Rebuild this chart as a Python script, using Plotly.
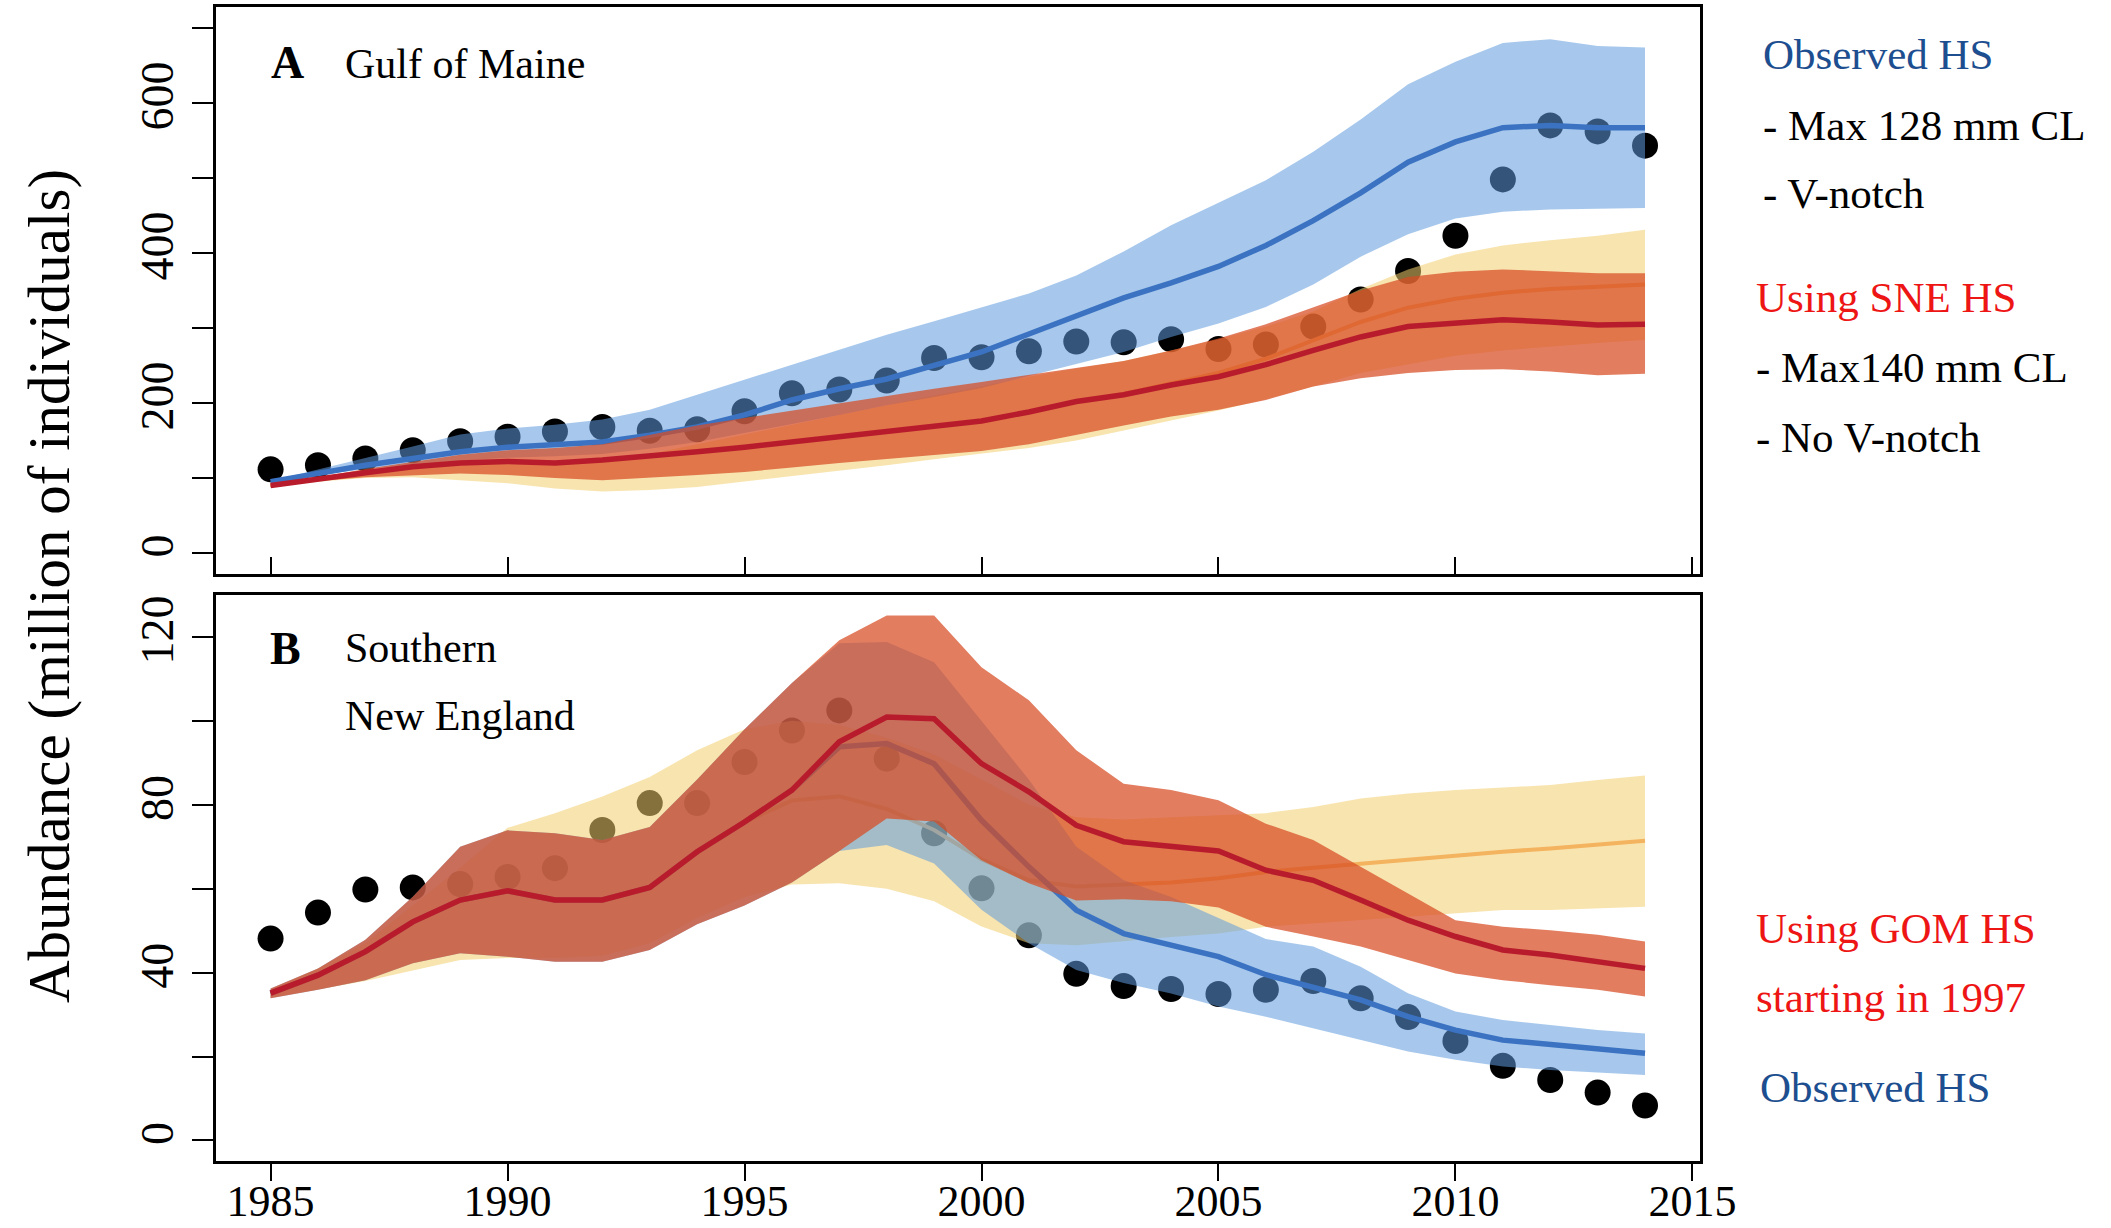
import plotly.graph_objects as go

W, H = 2111, 1228

years = list(range(1985, 2015))

# ---------------- Panel A: Gulf of Maine ----------------
gom_obs = [111.5, 117, 126, 137, 149, 155, 162, 168, 163, 165, 189, 213, 218, 230, 260,
           261, 269, 282, 281, 285, 272, 278, 302, 338, 376, 423, 498, 570, 562, 543]
gom_blue = [95, 106, 117, 126, 135, 141, 144, 148, 157, 168, 184, 204, 219, 232, 250,
            268, 292, 316, 340, 360, 382, 410, 443, 480, 521, 548, 567, 570, 567, 567]
gom_blue_up = [96, 111, 126, 142, 158, 166, 171, 178, 191, 211, 231, 252, 272, 291, 309,
               327, 346, 370, 402, 437, 467, 497, 535, 578, 625, 655, 680, 685, 676, 674]
gom_blue_lo = [94, 104, 112, 118, 123, 127, 129, 132, 139, 148, 160, 172, 184, 197, 208,
               220, 235, 252, 268, 288, 306, 328, 358, 395, 425, 446, 455, 458, 459, 460]
gom_red = [90, 99, 107, 115, 120, 122, 120, 124, 129, 135, 141, 148, 155, 163, 170,
           176, 188, 202, 211, 224, 235, 251, 270, 288, 302, 307, 311, 308, 304, 305]
gom_red_up = [92, 101, 112, 122, 131, 137, 140, 145, 158, 170, 180, 190, 200, 210, 219,
              228, 237, 246, 256, 270, 286, 305, 328, 350, 368, 375, 378, 376, 373, 373]
gom_red_lo = [88, 96, 101, 104, 106, 104, 100, 97, 100, 104, 108, 114, 120, 126, 131,
              136, 145, 158, 170, 182, 191, 204, 222, 233, 240, 244, 245, 242, 237, 239]
gom_yel = [90, 99, 107, 115, 120, 122, 120, 124, 129, 135, 141, 148, 155, 163, 170,
           176, 188, 202, 212, 226, 240, 259, 284, 308, 327, 339, 347, 352, 355, 358]
gom_yel_up = [91, 100, 107, 114, 119, 121, 120, 123, 132, 145, 158, 172, 185, 197, 210,
              222, 235, 246, 256, 270, 285, 302, 322, 352, 378, 398, 410, 417, 423, 431]
gom_yel_lo = [88, 95, 100, 101, 97, 93, 86, 82, 84, 88, 95, 102, 110, 117, 125,
              133, 140, 150, 163, 177, 190, 205, 222, 240, 252, 263, 270, 275, 280, 284]

# ---------------- Panel B: Southern New England ----------------
sne_obs = [48.1, 54.3, 59.8, 60.3, 61.1, 62.8, 64.9, 74, 80.4, 80.4, 90.2, 97.7, 102.5, 91, 73.2,
           60.1, 48.9, 39.7, 36.8, 36.1, 34.9, 35.9, 38, 33.9, 29.4, 23.7, 17.8, 14.4, 11.4, 8.3]
sne_red = [35.1, 39.4, 45, 52.1, 57.3, 59.5, 57.3, 57.3, 60.3, 68.8, 75.9, 83.5, 95, 100.9, 100.5,
           89.8, 83.1, 75.1, 71.2, 70.2, 69, 64.4, 62, 57.3, 52.5, 48.6, 45.4, 44.2, 42.6, 41]
sne_red_up = [36.2, 41, 47.8, 58.1, 70, 73.9, 73.2, 71.6, 74.7, 86, 98, 109, 119.2, 125.1, 125.1,
              112.8, 104.9, 93, 85, 83.5, 81.1, 75.5, 71.6, 65.2, 58.9, 52.5, 50.9, 50.1, 49, 47.4]
sne_red_lo = [33.9, 35.9, 38.2, 42.2, 44.6, 43.8, 42.6, 42.6, 45.4, 51.5, 56, 61.5, 69, 76.7, 76,
              66.8, 61.3, 57.2, 57.5, 57, 55.5, 50.9, 48.6, 46.2, 43, 39.8, 38.2, 37, 35.9, 34.3]
sne_blue = [35.1, 39.4, 45, 52.1, 57.3, 59.5, 57.3, 57.3, 60.3, 68.8, 75.9, 83.5, 93.8, 94.6, 89.8,
            76.3, 65.2, 54.9, 49.3, 46.6, 43.8, 39.5, 36.5, 33.5, 29.5, 26.3, 23.9, 22.8, 21.6, 20.8]
sne_blue_up = [36.2, 41, 47.8, 58.1, 70, 73.9, 73.2, 71.6, 74.7, 86, 98, 109, 118.5, 118.8, 114,
               100, 86, 70, 62, 58, 53, 48, 46.2, 41.4, 35.1, 30.7, 28.7, 27.5, 26.3, 25.5]
sne_blue_lo = [33.9, 35.9, 38.2, 42.2, 44.6, 43.8, 42.6, 42.6, 45.4, 51.5, 56, 61.5, 69, 70.4, 66,
               55, 47, 40.6, 37.5, 35, 31.9, 29.5, 26.7, 24, 21.2, 19.2, 17.6, 16.8, 16.2, 15.6]
sne_yel = [35.1, 39.4, 45, 52.1, 57.3, 59.5, 57.3, 57.3, 60.3, 68.8, 75.9, 81, 82, 79, 74,
           67, 62, 60.5, 61, 61.5, 62.5, 64, 65, 66, 67, 68, 68.8, 69.6, 70.4, 71.4]
sne_yel_up = [36, 41, 47, 56, 65, 74.5, 78, 82, 86.6, 93, 98, 100, 99, 96, 92,
              86, 80, 77, 76.5, 77, 77.5, 78, 79.5, 81.5, 82.7, 83.5, 84.1, 84.7, 85.9, 87]
sne_yel_lo = [34, 36, 38, 40.5, 43, 43.5, 43.5, 44, 47, 53, 58, 61, 61.3, 60, 57,
              51, 47, 46.5, 47.5, 48.5, 49.3, 50.9, 51.7, 52.5, 53.3, 54.1, 54.9, 54.9, 55.3, 55.7]

# ticks
x_ticks = [1985, 1990, 1995, 2000, 2005, 2010, 2015]
gom_yticks = [0, 100, 200, 300, 400, 500, 600, 700]
gom_ylabels = ["0", "", "200", "", "400", "", "600", ""]
sne_yticks = [0, 20, 40, 60, 80, 100, 120]
sne_ylabels = ["0", "", "40", "", "80", "", "120"]

# colours
YEL_FILL = "rgba(242,205,110,0.55)"
BLUE_FILL = "rgba(95,155,220,0.55)"
RED_FILL = "rgba(215,75,35,0.72)"
YEL_LINE = "#F4B35E"
BLUE_LINE = "#3B73C2"
RED_LINE = "#B81C2C"
SERIF = "Liberation Serif"

fig = go.Figure()


def band(up, lo, color, xa, ya):
    fig.add_trace(go.Scatter(
        x=years + years[::-1], y=up + lo[::-1], fill="toself", fillcolor=color,
        mode="lines", line=dict(width=0), hoverinfo="skip", showlegend=False,
        xaxis=xa, yaxis=ya))


def line(vals, color, width, xa, ya):
    fig.add_trace(go.Scatter(
        x=years, y=vals, mode="lines", line=dict(color=color, width=width),
        showlegend=False, xaxis=xa, yaxis=ya))


def dots(vals, xa, ya):
    fig.add_trace(go.Scatter(
        x=years, y=vals, mode="markers",
        marker=dict(color="black", size=26, line=dict(width=0)),
        showlegend=False, xaxis=xa, yaxis=ya))


# Panel A
dots(gom_obs, "x", "y")
band(gom_yel_up, gom_yel_lo, YEL_FILL, "x", "y")
line(gom_yel, YEL_LINE, 4, "x", "y")
band(gom_blue_up, gom_blue_lo, BLUE_FILL, "x", "y")
line(gom_blue, BLUE_LINE, 5.5, "x", "y")
band(gom_red_up, gom_red_lo, RED_FILL, "x", "y")
line(gom_red, RED_LINE, 5.5, "x", "y")

# Panel B
dots(sne_obs, "x2", "y2")
band(sne_yel_up, sne_yel_lo, YEL_FILL, "x2", "y2")
line(sne_yel, YEL_LINE, 4, "x2", "y2")
band(sne_blue_up, sne_blue_lo, BLUE_FILL, "x2", "y2")
line(sne_blue, BLUE_LINE, 5.5, "x2", "y2")
band(sne_red_up, sne_red_lo, RED_FILL, "x2", "y2")
line(sne_red, RED_LINE, 5.5, "x2", "y2")

x_dom = [215.6 / W, 1700 / W]
top_dom = [1 - 574 / H, 1 - 6.9 / H]
bot_dom = [1 - 1161.4 / H, 1 - 595 / H]
xr = [1983.84, 2015.16]

axis_common = dict(showline=True, linecolor="black", linewidth=2.5, mirror=True,
                   showgrid=False, zeroline=False, tickcolor="black", tickwidth=2)

fig.update_layout(
    width=W, height=H, autosize=False, margin=dict(l=0, r=0, t=0, b=0, autoexpand=False),
    paper_bgcolor="white", plot_bgcolor="white",
    font=dict(family=SERIF, color="black"),
    xaxis=dict(domain=x_dom, range=xr, anchor="y", tickvals=x_ticks,
               ticks="inside", ticklen=17, showticklabels=False, **axis_common),
    yaxis=dict(domain=top_dom, range=[-28, 728], anchor="x", tickvals=gom_yticks,
               ticktext=gom_ylabels, ticks="outside", ticklen=21, tickangle=-90,
               tickfont=dict(size=46, family=SERIF), **axis_common),
    xaxis2=dict(domain=x_dom, range=xr, anchor="y2", tickvals=x_ticks,
                ticktext=[str(v) for v in x_ticks], ticks="outside", ticklen=17,
                ticklabelstandoff=-18,
                tickfont=dict(size=44, family=SERIF), **axis_common),
    yaxis2=dict(domain=bot_dom, range=[-5, 130], anchor="x2", tickvals=sne_yticks,
                ticktext=sne_ylabels, ticks="outside", ticklen=21, tickangle=-90,
                tickfont=dict(size=46, family=SERIF), **axis_common),
)


def ann(text, px, py, size, color="black", xanchor="left", bold=False, angle=0):
    if bold:
        text = "<b>" + text + "</b>"
    fig.add_annotation(text=text, x=px / W, y=1 - py / H, xref="paper", yref="paper",
                       xanchor=xanchor, yanchor="middle", showarrow=False, textangle=angle,
                       font=dict(family=SERIF, size=size, color=color))


# y-axis title
ann("Abundance (million of individuals)", 49, 586, 59, xanchor="center", angle=-90)

# panel labels
ann("A", 287, 62, 46, xanchor="center", bold=True)
ann("Gulf of Maine", 343, 64, 42)
ann("B", 285, 648, 46, xanchor="center", bold=True)
ann("Southern", 343, 648, 42)
ann("New England", 343, 716, 42)

# right-hand notes
BLUE_TXT = "#1D4E8F"
RED_TXT = "#EE1515"
ann("Observed HS", 1761, 54, 43, BLUE_TXT)
ann("- Max 128 mm CL", 1761, 125, 43)
ann("- V-notch", 1761, 194, 43)
ann("Using SNE HS", 1754, 297, 43, RED_TXT)
ann("- Max140 mm CL", 1754, 367, 43)
ann("- No V-notch", 1754, 437, 43)
ann("Using GOM HS", 1754, 928, 43, RED_TXT)
ann("starting in 1997", 1754, 997, 43, RED_TXT)
ann("Observed HS", 1758, 1087, 43, BLUE_TXT)

fig.write_html("out.html", config={"responsive": False})
